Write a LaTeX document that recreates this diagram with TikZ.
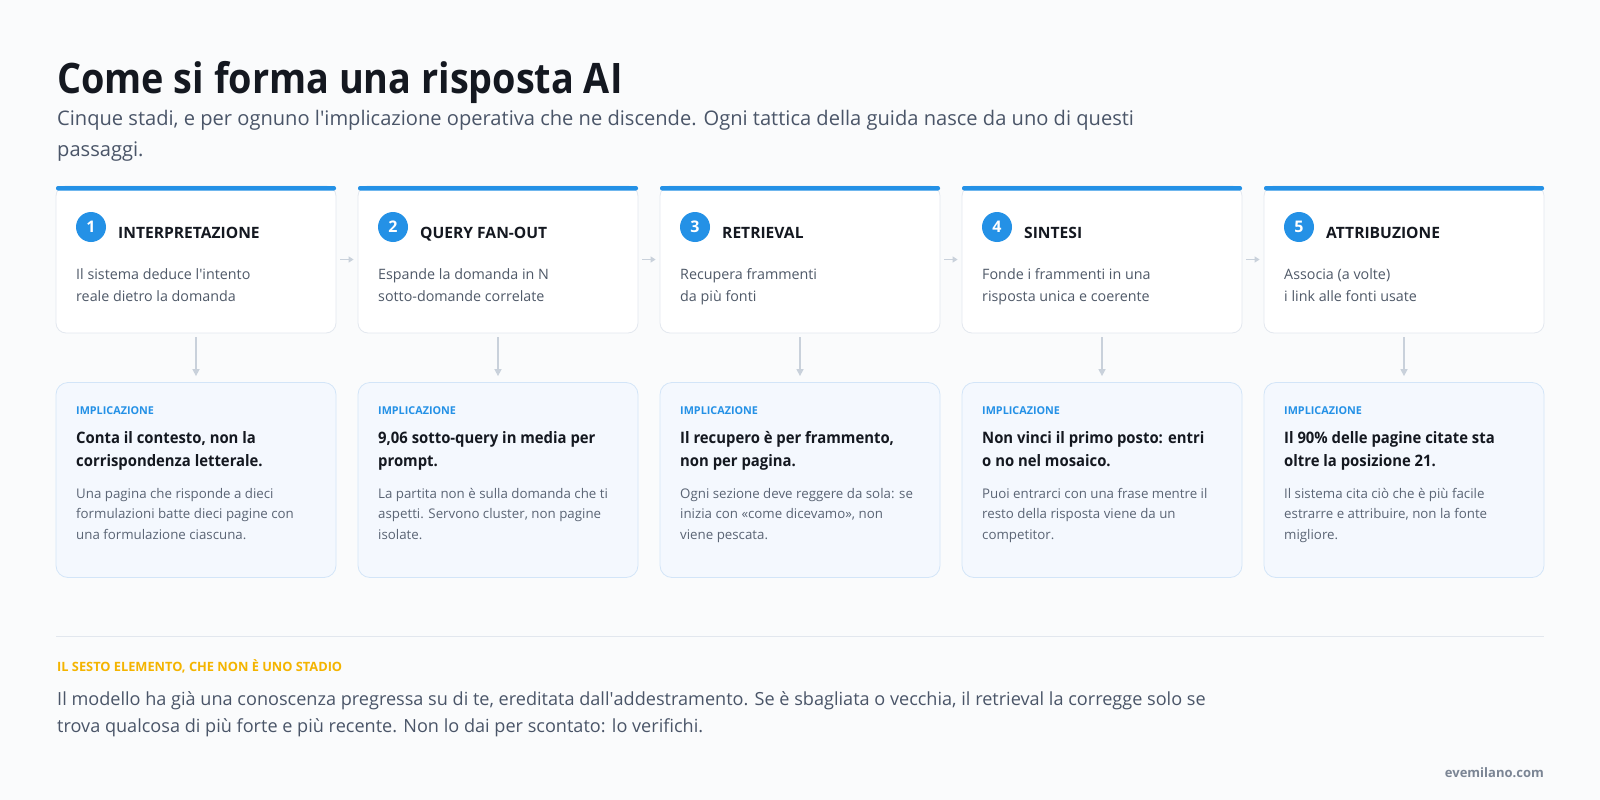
\documentclass[tikz,border=0pt]{standalone}
\usepackage{fontspec}
\setmainfont{Open Sans}
\usetikzlibrary{arrows.meta}
\definecolor{bgc}{HTML}{FAFBFC}
\definecolor{titlec}{HTML}{141820}
\definecolor{subc}{HTML}{4A5568}
\definecolor{stageblue}{HTML}{2491E6}
\definecolor{cardline}{HTML}{E3E8EF}
\definecolor{descc}{HTML}{4F5968}
\definecolor{implfill}{HTML}{F4F8FE}
\definecolor{implline}{HTML}{D3E5F8}
\definecolor{bodyc}{HTML}{5A6474}
\definecolor{arrowc}{HTML}{C9D1DB}
\definecolor{amber}{HTML}{F4B400}
\definecolor{sepc}{HTML}{E2E7EE}
\definecolor{footc}{HTML}{7B8594}
\newcommand\ap{\textquotesingle}
\tikzset{
  txt/.style={inner sep=0pt, anchor=base west},
  stagecard/.style={rectangle, rounded corners=10pt, fill=white, draw=cardline, line width=0.8pt, minimum width=280pt, minimum height=147pt, inner sep=0pt},
  implcard/.style={rectangle, rounded corners=12pt, fill=implfill, draw=implline, line width=0.8pt, minimum width=280pt, minimum height=195pt, inner sep=0pt},
  numcircle/.style={circle, fill=stageblue, minimum size=30pt, inner sep=0pt, text=white, font=\fontsize{16}{18}\selectfont\bfseries},
  stitle/.style={txt, text=titlec, font=\fontsize{15.6}{18}\selectfont\bfseries},
  desc/.style={txt, text=descc, font=\fontsize{14.3}{18}\selectfont},
  impllabel/.style={txt, text=stageblue, font=\fontsize{10.8}{14}\selectfont\bfseries},
  implhead/.style={txt, text=titlec, font=\fontsize{15.8}{19}\selectfont\bfseries\addfontfeature{FakeStretch=0.94}},
  implbody/.style={txt, text=bodyc, font=\fontsize{13.3}{17}\selectfont},
  vconn/.style={draw=arrowc, line width=1.5pt, -{Triangle[length=7pt,width=7pt]}},
  hconn/.style={draw=arrowc, line width=1.3pt, -{Triangle[length=5pt,width=6pt]}},
}
\newcommand\mystage[6]{%
  \pgfmathsetmacro\cx{56+(#1-1)*302}
  \node[stagecard] (s#1) at (\cx+140,259.5) {};
  \fill[stageblue, rounded corners=2pt] (\cx,186) rectangle (\cx+280,190.5);
  \node[numcircle] (n#1) at (\cx+35,227) {#1};
  \node[stitle] (t#1) at (\cx+62,238) {#2};
  \foreach \ln [count=\k] in {#3} {\node[desc] (d#1-\k) at (\cx+20,{279+(\k-1)*22}) {\ln};}
  \node[implcard] (m#1) at (\cx+140,480) {};
  \node[impllabel] (l#1) at (\cx+20,414) {IMPLICAZIONE};
  \foreach \ln [count=\k] in {#4} {\node[implhead] (h#1-\k) at (\cx+20,{443+(\k-1)*23.5}) {\ln};}
  \foreach \ln [count=\k] in {#5} {\node[implbody] (b#1-\k) at (\cx+20,{498+(\k-1)*20.7}) {\ln};}
  \draw[vconn] ([yshift=-4pt]s#1.south) -- ([yshift=6pt]m#1.north);
}
\begin{document}
\begin{tikzpicture}[x=1pt,y=-1pt]
\fill[bgc] (0,0) rectangle (1600,800);
\useasboundingbox (0,0) rectangle (1600,800);
\node[txt, text=titlec, font=\fontsize{42}{50}\selectfont\bfseries\addfontfeature{FakeStretch=0.9}] (title) at (57,93) {Come si forma una risposta AI};
\node[txt, text=subc, font=\fontsize{20.1}{24}\selectfont] (sub1) at (57,125.5) {Cinque stadi, e per ognuno l\ap implicazione operativa che ne discende. Ogni tattica della guida nasce da uno di questi};
\node[txt, text=subc, font=\fontsize{20.1}{24}\selectfont] (sub2) at (57,156) {passaggi.};
\mystage{1}{INTERPRETAZIONE}{{Il sistema deduce l\ap intento},{reale dietro la domanda}}{{Conta il contesto, non la},{corrispondenza letterale.}}{{Una pagina che risponde a dieci},{formulazioni batte dieci pagine con},{una formulazione ciascuna.}}{}
\mystage{2}{QUERY FAN-OUT}{{Espande la domanda in N},{sotto-domande correlate}}{{9,06 sotto-query in media per},{prompt.}}{{La partita non è sulla domanda che ti},{aspetti. Servono cluster, non pagine},{isolate.}}{}
\mystage{3}{RETRIEVAL}{{Recupera frammenti},{da più fonti}}{{Il recupero è per frammento,},{non per pagina.}}{{Ogni sezione deve reggere da sola: se},{inizia con «come dicevamo», non},{viene pescata.}}{}
\mystage{4}{SINTESI}{{Fonde i frammenti in una},{risposta unica e coerente}}{{Non vinci il primo posto: entri},{o no nel mosaico.}}{{Puoi entrarci con una frase mentre il},{resto della risposta viene da un},{competitor.}}{}
\mystage{5}{ATTRIBUZIONE}{{Associa (a volte)},{i link alle fonti usate}}{{Il 90\% delle pagine citate sta},{oltre la posizione 21.}}{{Il sistema cita ciò che è più facile},{estrarre e attribuire, non la fonte},{migliore.}}{}
\foreach \i [evaluate=\i as \j using int(\i+1)] in {1,...,4} {\draw[hconn] ([xshift=4pt]s\i.east) -- ([xshift=-4pt]s\j.west);}
\coordinate (sepL) at (56,636);
\coordinate (sepR) at (1544,636);
\draw[sepc, line width=1pt] (sepL) -- (sepR);
\node[txt, text=amber, font=\fontsize{12.8}{14}\selectfont\bfseries] (sesto) at (57,671.5) {IL SESTO ELEMENTO, CHE NON È UNO STADIO};
\node[txt, text=subc, font=\fontsize{18.1}{22}\selectfont] (f1) at (57,705) {Il modello ha già una conoscenza pregressa su di te, ereditata dall\ap addestramento. Se è sbagliata o vecchia, il retrieval la corregge solo se};
\node[txt, text=subc, font=\fontsize{18.1}{22}\selectfont] (f2) at (57,732.5) {trova qualcosa di più forte e più recente. Non lo dai per scontato: lo verifichi.};
\node[inner sep=0pt, anchor=base east, text=footc, font=\fontsize{13}{17}\selectfont\bfseries] (foot) at (1544,777) {evemilano.com};
\end{tikzpicture}
\end{document}
